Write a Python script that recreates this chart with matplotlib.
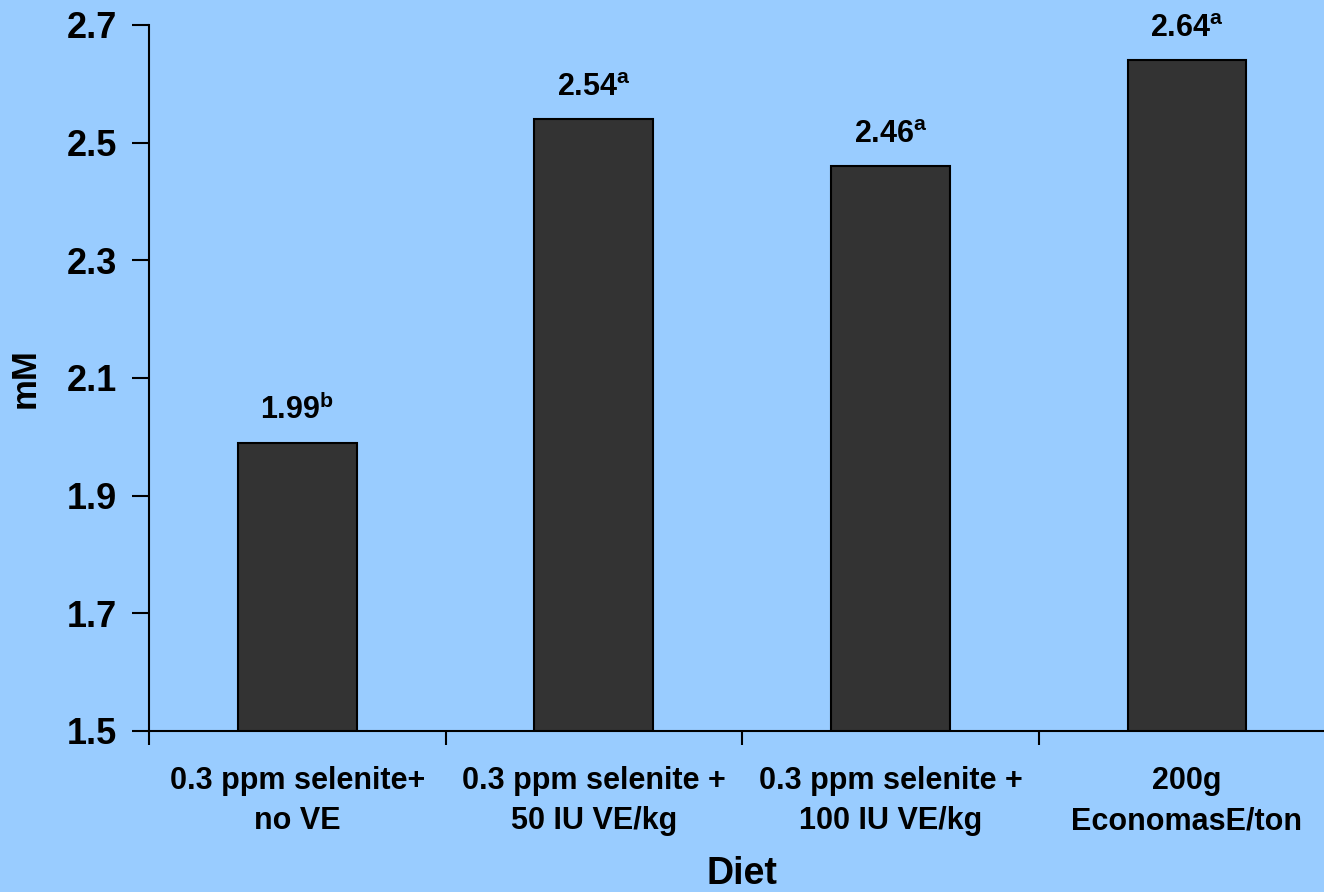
import matplotlib
matplotlib.use('Agg')
import matplotlib.pyplot as plt

plt.rcParams['font.family'] = ['Liberation Sans', 'DejaVu Sans']
plt.rcParams['font.weight'] = 'bold'
plt.rcParams['mathtext.fontset'] = 'custom'
plt.rcParams['mathtext.rm'] = 'Liberation Sans:bold'
plt.rcParams['mathtext.it'] = 'Liberation Sans:bold'
plt.rcParams['mathtext.bf'] = 'Liberation Sans:bold'

diets = ['0.3 ppm selenite+\nno VE', '0.3 ppm selenite +\n50 IU VE/kg',
         '0.3 ppm selenite +\n100 IU VE/kg', '200g\nEconomasE/ton']
values = [1.99, 2.54, 2.46, 2.64]
letters = ['b', 'a', 'a', 'a']
yticks = [1.5, 1.7, 1.9, 2.1, 2.3, 2.5, 2.7]

bg = '#99CCFF'
fig = plt.figure(figsize=(13.24, 8.92), dpi=100, facecolor=bg)
ax = fig.add_axes([0.1125, 0.1805, 0.896, 0.7915], facecolor=bg)

x = list(range(len(diets)))
ax.bar(x, values, width=0.4, color='#333333', edgecolor='black', linewidth=1.5, zorder=2)

for xi, v, l in zip(x, values, letters):
    ax.text(xi, v + 0.04, r'$\mathbf{%.2f}^{\mathbf{%s}}$' % (v, l),
            ha='center', va='baseline', fontsize=22)

ax.set_xlim(-0.5, 3.5)
ax.set_ylim(1.5, 2.7)
ax.set_yticks(yticks)
ax.set_yticklabels([f'{t:.1f}' for t in yticks], fontsize=26, fontweight='bold')

# category boundaries get ticks, centers get labels
ax.set_xticks([-0.5, 0.5, 1.5, 2.5, 3.5])
ax.set_xticklabels([])
ax.set_xticks(x, minor=True)
ax.set_xticklabels(diets, minor=True, fontsize=22, fontweight='bold', linespacing=1.45)
ax.tick_params(axis='x', which='minor', length=0, pad=25)
ax.tick_params(axis='x', which='major', length=10, width=1.5, direction='out')
ax.tick_params(axis='y', length=12, width=1.5, direction='out', pad=11)

for s in ['top', 'right']:
    ax.spines[s].set_visible(False)
for s in ['left', 'bottom']:
    ax.spines[s].set_linewidth(1.5)

ax.set_xlabel('Diet', fontsize=27, fontweight='bold', labelpad=14)
ax.set_ylabel('mM', fontsize=25, fontweight='bold', labelpad=18)

fig.savefig('out.png', dpi=100, facecolor=bg)
